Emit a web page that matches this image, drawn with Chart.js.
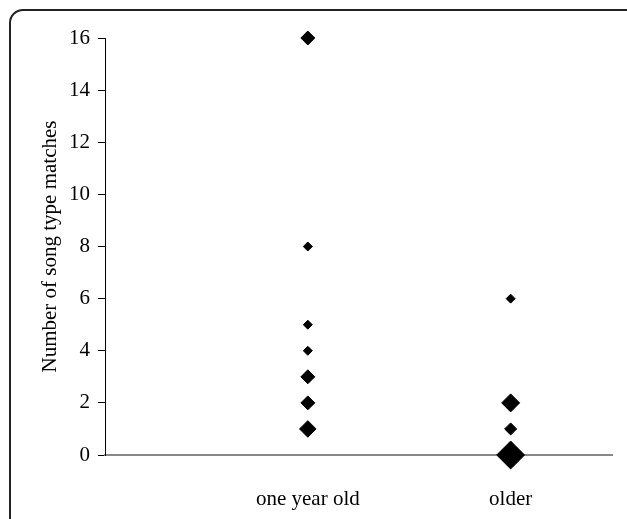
<!DOCTYPE html>
<html>
<head>
<meta charset="utf-8">
<script src="https://cdn.jsdelivr.net/npm/chart.js@4.4.1/dist/chart.umd.min.js"></script>
<style>
  html, body { margin: 0; padding: 0; background: #fff; overflow: hidden; }
  #frame {
    position: absolute; left: 9px; top: 9px; width: 700px; height: 600px;
    border: 2px solid #222; border-top-left-radius: 14px;
  }
  #wrap { position: absolute; left: 0; top: 0; width: 627px; height: 519px; }
</style>
</head>
<body>
<div id="frame"></div>
<div id="wrap"><canvas id="myChart" width="627" height="519"></canvas></div>
<script>
    // categories on the x axis
    var categories = ['one year old', 'older'];
    // song type matches per group
    var yearlingMatches = [16, 8, 5, 4, 3, 2, 1];
    var olderMatches = [6, 2, 1, 0];
    // number of birds at each value (shown by marker size)
    var yearlingBirds = [2.4, 1, 1, 1, 2.4, 2.4, 3.4];
    var olderBirds = [1, 4, 1.8, 9.6];
    var yTicks = [0, 2, 4, 6, 8, 10, 12, 14, 16];

    function toPoints(values, catIndex) {
        return values.map(function (v) { return { x: catIndex + 1, y: v }; });
    }

    function sizeFrom(counts) {
        return function (ctx) {
            return 4.5 * Math.sqrt(counts[ctx.dataIndex]);
        };
    }

    var font = { family: 'Liberation Serif', size: 21 };

    new Chart(document.getElementById('myChart'), {
        type: 'scatter',
        data: {
            datasets: [{
                label: categories[0],
                data: toPoints(yearlingMatches, 0),
                pointStyle: 'rectRot',
                pointRadius: sizeFrom(yearlingBirds),
                backgroundColor: '#000',
                borderColor: '#000',
                borderWidth: 1,
                clip: false
            }, {
                label: categories[1],
                data: toPoints(olderMatches, 1),
                pointStyle: 'rectRot',
                pointRadius: sizeFrom(olderBirds),
                backgroundColor: '#000',
                borderColor: '#000',
                borderWidth: 1,
                clip: false
            }]
        },
        options: {
            responsive: false,
            animation: false,
            layout: { padding: { top: 38, right: 10, bottom: 0, left: 0 } },
            plugins: { legend: { display: false }, tooltip: { enabled: false } },
            scales: {
                x: {
                    type: 'linear',
                    min: 0,
                    max: 2.5,
                    afterBuildTicks: function (scale) {
                        scale.ticks = categories.map(function (c, i) { return { value: i + 1 }; });
                    },
                    afterFit: function (scale) { scale.height = 64; },
                    ticks: {
                        color: '#000',
                        font: font,
                        padding: 32,
                        maxRotation: 0,
                        autoSkip: false,
                        callback: function (v) { return categories[v - 1] || ''; }
                    },
                    grid: { display: false, drawTicks: false },
                    border: { display: true, color: '#888', width: 2 }
                },
                y: {
                    min: 0,
                    max: 16,
                    afterBuildTicks: function (scale) {
                        scale.ticks = yTicks.map(function (v) { return { value: v }; });
                    },
                    afterFit: function (scale) { scale.width = 105; },
                    ticks: { color: '#000', font: font, padding: 8 },
                    grid: { drawOnChartArea: false, drawTicks: true, tickLength: 7, color: '#000' },
                    border: { display: true, color: '#000', width: 1 },
                    title: {
                        display: true,
                        text: 'Number of song type matches',
                        color: '#000',
                        font: font,
                        padding: { top: 38, bottom: 0 }
                    }
                }
            }
        }
    });
</script>
</body>
</html>
